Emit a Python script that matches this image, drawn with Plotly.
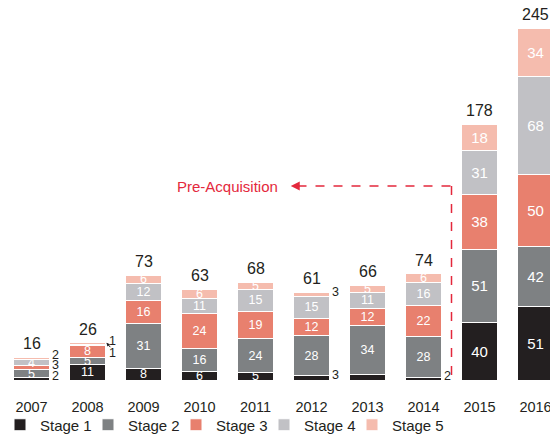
import plotly.graph_objects as go

years = ["2007", "2008", "2009", "2010", "2011", "2012", "2013", "2014", "2015", "2016"]
stage1 = [2, 11, 8, 6, 5, 3, 4, 2, 40, 51]
stage2 = [5, 5, 31, 16, 24, 28, 34, 28, 51, 42]
stage3 = [3, 8, 16, 24, 19, 12, 12, 22, 38, 50]
stage4 = [4, 1, 12, 11, 15, 15, 11, 16, 31, 68]
stage5 = [2, 1, 6, 6, 5, 3, 5, 6, 18, 34]
stage_names = ["Stage 1", "Stage 2", "Stage 3", "Stage 4", "Stage 5"]
hidden_labels = [("2013", "Stage 1")]

series = [stage1, stage2, stage3, stage4, stage5]
colors = ["#231f20", "#7e8183", "#e8806e", "#c1c1c5", "#f5bcae"]
FONT = "Liberation Sans, Arial, sans-serif"
RED = "#e4283c"

xs = list(range(len(years)))
totals = [sum(v) for v in zip(*series)]

fig = go.Figure()
for name, vals, col in zip(stage_names, series, colors):
    txt = []
    for yr, v in zip(years, vals):
        if v < 4 or (yr, name) in hidden_labels:
            txt.append("")
        else:
            txt.append(str(v))
    sizes = [15 if t > 150 else 12.5 for t in totals]
    fig.add_trace(go.Bar(
        x=xs, y=vals, name=name, marker=dict(color=col, line=dict(color="white", width=1)),
        text=txt, textposition="inside", insidetextanchor="middle", textangle=0,
        textfont=dict(color="white", size=sizes, family=FONT),
        constraintext="none", hoverinfo="skip",
    ))

annotations = []
# totals
for i, t in enumerate(totals):
    annotations.append(dict(x=i, y=t, text=str(t), showarrow=False, yanchor="bottom", yshift=3,
                            font=dict(size=16, color="#231f20", family=FONT)))

# outside labels for small segments
special_shift = {("2008", "Stage 4"): -8, ("2008", "Stage 5"): 2}
for i, yr in enumerate(years):
    cum = 0
    for name, vals in zip(stage_names, series):
        v = vals[i]
        mid = cum + v / 2
        cum += v
        if v < 4 and (yr, name) not in hidden_labels:
            ys = special_shift.get((yr, name), 3)
            annotations.append(dict(x=i, y=mid, text=str(v), showarrow=False, xshift=24 + (1 if yr == "2008" else 0),
                                    yshift=ys, font=dict(size=12.5, color="#231f20", family=FONT)))

# small arrow for 2008
annotations.append(dict(x=1, y=totals[1], xshift=19, yshift=0, text="", showarrow=True, ax=5, ay=6,
                        arrowhead=2, arrowsize=0.7, arrowwidth=1, arrowcolor="#231f20"))

# Pre-Acquisition
annotations.append(dict(x=4.44, y=135, text="Pre-Acquisition", showarrow=False, xanchor="right",
                        font=dict(size=15, color=RED, family=FONT)))
annotations.append(dict(x=4.63, y=135, ax=10, ay=0, text="", showarrow=True, arrowhead=2,
                        arrowsize=1.2, arrowwidth=1.5, arrowcolor=RED))

shapes = [
    dict(type="line", x0=4.75, x1=7.5, y0=135, y1=135, line=dict(color=RED, width=1.5, dash="dash")),
    dict(type="line", x0=7.5, x1=7.5, y0=135, y1=0, line=dict(color=RED, width=1.5, dash="dash")),
]

fig.update_layout(
    width=550, height=435,
    margin=dict(l=0, r=0, t=0, b=55, autoexpand=False),
    barmode="stack", bargap=0.36,
    plot_bgcolor="white", paper_bgcolor="white",
    font=dict(family=FONT, color="#231f20"),
    xaxis=dict(range=[-0.5625, 9.259], tickvals=xs, ticktext=years, showgrid=False, zeroline=False,
               showline=False, ticks="", tickfont=dict(size=14.5, color="#231f20"), ticklabelstandoff=16,
               ticklabeloverflow="allow", fixedrange=True, automargin=False),
    yaxis=dict(range=[0, 264.5], visible=False, fixedrange=True, automargin=False),
    showlegend=True,
    legend=dict(orientation="h", xref="container", yref="container", x=-0.022, y=0.023, xanchor="left",
                yanchor="middle", entrywidth=43, entrywidthmode="pixels", font=dict(size=15, color="#231f20"),
                traceorder="normal", itemclick=False, bgcolor="rgba(0,0,0,0)"),
    annotations=annotations, shapes=shapes,
)

unclip = (
    "document.body.style.margin='0';document.body.style.padding='0';"
    "function _unclip(){document.querySelectorAll('.legend, .legend .scrollbox, .legend .groups')"
    ".forEach(function(e){e.removeAttribute('clip-path');e.style.clipPath='none';});}"
    "_unclip();setTimeout(_unclip,0);setTimeout(_unclip,200);"
)
fig.write_html("out.html", config={"displayModeBar": False}, post_script=unclip)
